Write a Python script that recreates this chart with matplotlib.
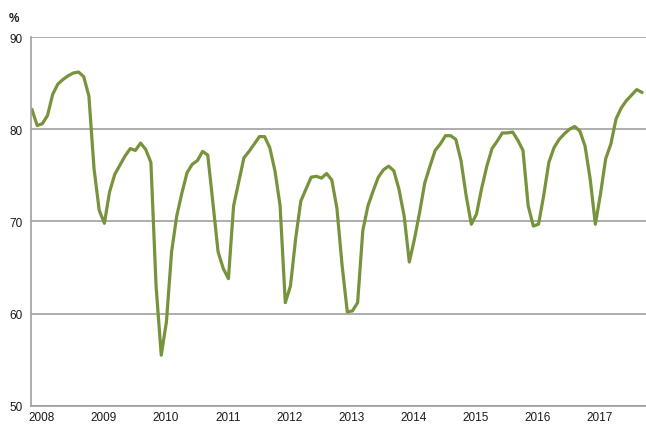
import matplotlib
matplotlib.use('Agg')
import matplotlib.pyplot as plt

plt.rcParams['font.family'] = ['Liberation Sans', 'DejaVu Sans']

# monthly values, Jan 2008 - Nov 2017
y2008 = [82.1, 80.4, 80.6, 81.5, 83.8, 84.9, 85.4, 85.8, 86.1, 86.2, 85.7, 83.6]
y2009 = [75.7, 71.2, 69.8, 73.2, 75.1, 76.1, 77.1, 77.9, 77.7, 78.5, 77.8, 76.4]
y2010 = [63.0, 55.5, 59.1, 66.7, 70.6, 73.1, 75.3, 76.2, 76.6, 77.6, 77.2, 72.0]
y2011 = [66.7, 64.9, 63.8, 71.7, 74.3, 76.9, 77.6, 78.4, 79.2, 79.2, 78.0, 75.5]
y2012 = [71.7, 61.2, 63.0, 68.1, 72.2, 73.5, 74.8, 74.9, 74.7, 75.2, 74.5, 71.4]
y2013 = [65.2, 60.2, 60.3, 61.2, 69.0, 71.7, 73.3, 74.8, 75.6, 76.0, 75.5, 73.5]
y2014 = [70.6, 65.6, 68.1, 71.0, 74.2, 76.0, 77.7, 78.4, 79.3, 79.3, 78.9, 76.6]
y2015 = [72.8, 69.7, 70.8, 73.6, 76.0, 77.9, 78.7, 79.6, 79.6, 79.7, 78.8, 77.7]
y2016 = [71.7, 69.5, 69.7, 72.8, 76.4, 78.0, 78.9, 79.5, 80.0, 80.3, 79.8, 78.2]
y2017 = [74.6, 69.7, 73.0, 76.8, 78.4, 81.1, 82.3, 83.1, 83.7, 84.3, 84.0]

years = ['2008', '2009', '2010', '2011', '2012', '2013', '2014', '2015', '2016', '2017']

values = y2008 + y2009 + y2010 + y2011 + y2012 + y2013 + y2014 + y2015 + y2016 + y2017
months = list(range(len(values)))

fig = plt.figure(figsize=(6.46, 4.27), dpi=100)
ax = fig.add_axes([0.048, 0.047, 0.952, 0.864])

ax.plot(months, values, color='#77933C', linewidth=2.3, solid_joinstyle='round')

ax.set_ylim(50, 90)
ax.set_yticks([50, 60, 70, 80, 90])
ax.set_xlim(-0.2, 118.8)
ax.set_xticks([12 * k + 1.9 for k in range(len(years))])
ax.set_xticklabels(years)

ax.grid(axis='y', color='#A0A0A0', linewidth=1.2)
ax.set_axisbelow(True)
for s in ['top', 'right']:
    ax.spines[s].set_visible(False)
for s in ['left', 'bottom']:
    ax.spines[s].set_color('#A0A0A0')
    ax.spines[s].set_linewidth(1.2)
ax.tick_params(length=0, labelsize=8.5, colors='#1a1a1a')
ax.tick_params(axis='y', pad=6)
ax.tick_params(axis='x', pad=3.5)

fig.text(0.013, 0.955, '%', fontsize=8.5, fontweight='bold', color='#1a1a1a', va='center')

plt.savefig('out.png', dpi=100)
